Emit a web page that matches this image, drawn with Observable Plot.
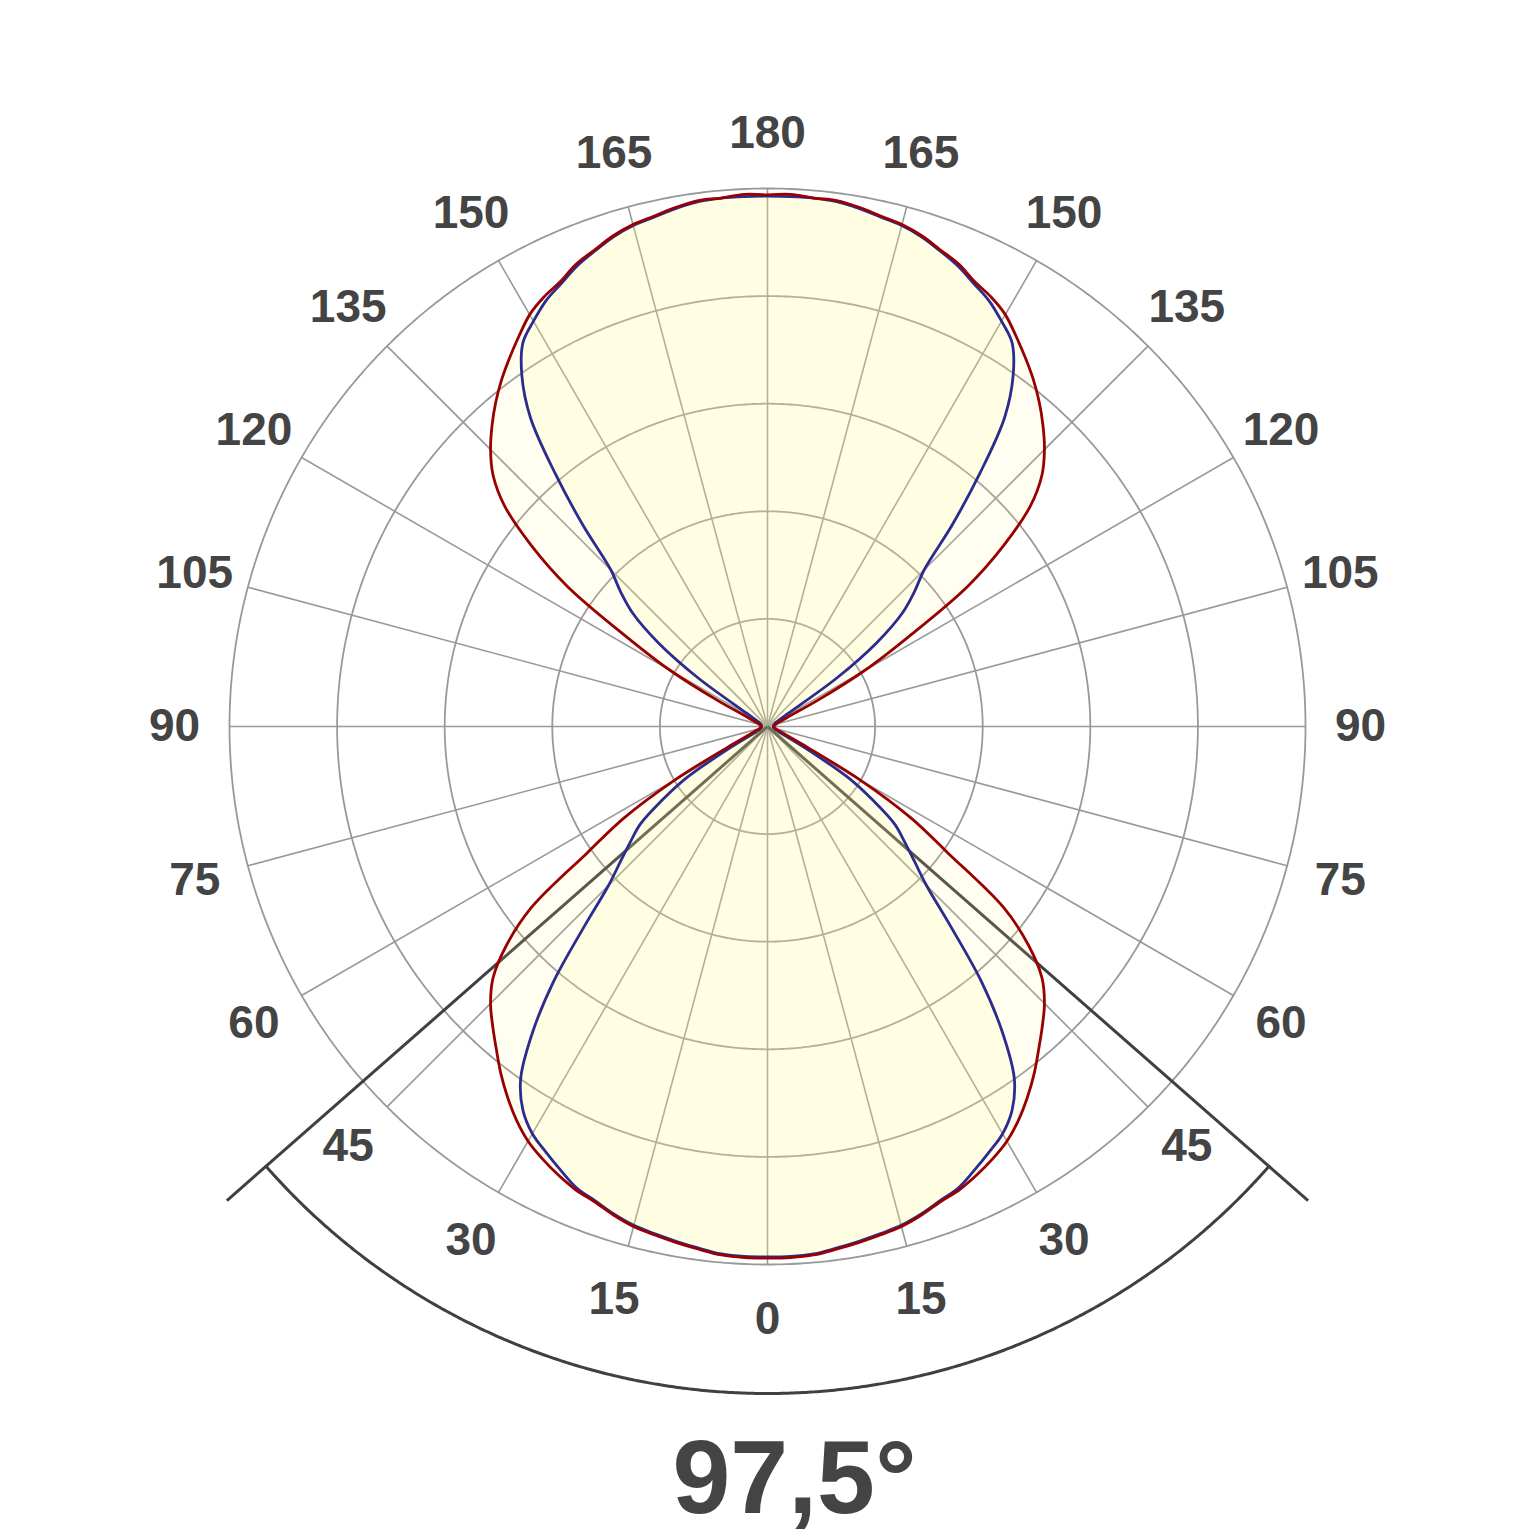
<!DOCTYPE html>
<html>
<head>
<meta charset="utf-8">
<script src="https://cdn.jsdelivr.net/npm/d3@7"></script>
<script src="https://cdn.jsdelivr.net/npm/@observablehq/plot@0.6"></script>
<style>
  html, body { margin: 0; padding: 0; background: #fff; }
  #chart { width: 1536px; height: 1536px; }
</style>
</head>
<body>
<div id="chart"></div>
<script>
// ---- Data ----
// gamma angle (0 = straight down, 180 = straight up)
const gamma = [0, 2.5, 5, 7.5, 10, 12.5, 15, 17.5, 20, 22.5, 25, 27.5, 30, 32.5, 35, 37.5, 40, 42.5,
  45, 47.5, 50, 52.5, 55, 57.5, 60, 62.5, 65, 67.5, 70, 72.5, 75, 77.5, 80, 82.5, 85, 87.5,
  90, 92.5, 95, 97.5, 100, 102.5, 105, 107.5, 110, 112.5, 115, 117.5, 120, 122.5, 125, 127.5,
  130, 132.5, 135, 137.5, 140, 142.5, 145, 147.5, 150, 152.5, 155, 157.5, 160, 162.5, 165,
  167.5, 170, 172.5, 175, 177.5, 180];
// outer (red) plane intensity
const intensityRed = [494, 494, 493, 490, 487, 484, 481, 476, 470,
  466, 460, 453, 445, 434, 421, 407, 392, 378,
  364, 346, 317, 277, 204, 158, 100, 42, 21,
  15, 11, 9, 8, 7, 6.5, 6.5, 6, 6,
  6, 6, 6, 6.5, 6.5, 7, 8, 9, 11,
  15, 21, 52, 105, 156, 227, 277, 319, 346,
  364, 379, 393, 406, 418, 430, 442, 450, 456,
  465, 471, 478, 483, 486, 490, 493, 493, 495,
  494];
// inner (blue) plane intensity
const intensityBlue = [493, 493, 492, 489, 486, 483, 480, 475, 469,
  464, 455, 446, 437, 423, 400, 359, 309, 252,
  209, 185, 166, 149, 120, 91, 46, 22, 12,
  9, 7.5, 7, 6.5, 6, 6, 5.5, 5.5, 5.5,
  5.5, 5.5, 5.5, 5.5, 5.5, 6, 6.5, 6.5, 7,
  7.5, 8, 9.5, 14, 23, 79, 128, 163, 185,
  206, 254, 307, 362, 398, 423, 435, 446, 454,
  463, 470, 477, 482, 485, 489, 492, 493, 493,
  493];
const ringValues = [100, 200, 300, 400, 500];
const spokeAngles = [0, 15, 30, 45, 60, 75, 90, 105, 120, 135, 150, 165, 180,
  -15, -30, -45, -60, -75, -90, -105, -120, -135, -150, -165];
const rightLabels = [0, 15, 30, 45, 60, 75, 90, 105, 120, 135, 150, 165, 180];
const leftLabels = [15, 30, 45, 60, 75, 90, 105, 120, 135, 150, 165];
const beamAngle = 97.5;

// ---- Layout ----
const W = 1536, H = 1536;
const cx = 767, cy = 726;      // centre of the diagram
const pxPerRing = 107.6;       // px per 100 intensity units
const half = 700;              // half side of the square frame
const deg = v => v / 100;      // intensity -> angular distance from pole (degrees)
const lat = v => 90 - deg(v);

function loop(values) {
  const right = gamma.map((g, i) => ({lon: g, v: values[i]}));
  const left = gamma.map((g, i) => ({lon: -g, v: values[i]})).reverse();
  return right.concat(left);
}
const redLoop = loop(intensityRed);
const blueLoop = loop(intensityBlue);

const labels = rightLabels.map(a => ({lon: a, text: String(a)}))
  .concat(leftLabels.map(a => ({lon: -a, text: String(a)})));

const halfBeam = beamAngle / 2;
const arcPts = d3.range(-halfBeam, halfBeam + 0.001, 0.25);
const beamLabel = String(beamAngle).replace(".", ",") + "°";

const circle = r => d3.geoCircle().center([0, 90]).radius(r).precision(0.5)();

const chart = Plot.plot({
  width: W,
  height: H,
  marginLeft: cx - half,
  marginRight: W - cx - half,
  marginTop: cy - half,
  marginBottom: H - cy - half,
  projection: {
    type: "azimuthal-equidistant",
    rotate: [0, -90],
    domain: circle(half / pxPerRing)
  },
  style: {fontFamily: "'Liberation Sans', Arial, Helvetica, sans-serif", background: "#fff"},
  marks: [
    Plot.geo(ringValues, {geometry: r => circle(deg(r)), fill: "none", stroke: "#999", strokeWidth: 1.8}),
    Plot.link(spokeAngles, {x1: d => d, y1: 90, x2: d => d, y2: lat(500), stroke: "#999", strokeWidth: 1.6}),
    Plot.link([-halfBeam, halfBeam], {x1: d => d, y1: 90, x2: d => d, y2: 90 - 719 / pxPerRing, stroke: "#404040", strokeWidth: 3}),
    Plot.line(arcPts, {x: d => d, y: 90 - 667 / pxPerRing, stroke: "#404040", strokeWidth: 3, curve: "linear"}),
    Plot.area(redLoop, {x1: d => d.lon, y1: d => lat(d.v), x2: 0, y2: 90, fill: "#fffa90", fillOpacity: 0.13, curve: "catmull-rom"}),
    Plot.area(blueLoop, {x1: d => d.lon, y1: d => lat(d.v), x2: 0, y2: 90, fill: "#fffa90", fillOpacity: 0.15, curve: "catmull-rom"}),
    Plot.line(blueLoop, {x: d => d.lon, y: d => lat(d.v), stroke: "#2b2b90", strokeWidth: 2.8, curve: "catmull-rom", strokeLinejoin: "round"}),
    Plot.line(redLoop, {x: d => d.lon, y: d => lat(d.v), stroke: "#990000", strokeWidth: 2.8, curve: "catmull-rom", strokeLinejoin: "round"}),
    Plot.text(labels, {x: d => d.lon, y: 90 - 593 / pxPerRing, text: d => d.text, fontSize: 46, fontWeight: "bold", fill: "#444"}),
    Plot.text([beamLabel], {frameAnchor: "bottom", lineAnchor: "middle", dx: 27, dy: 53, text: d => d, fontSize: 104, fontWeight: "bold", fill: "#444"})
  ]
});
document.getElementById("chart").appendChild(chart);
</script>
</body>
</html>
